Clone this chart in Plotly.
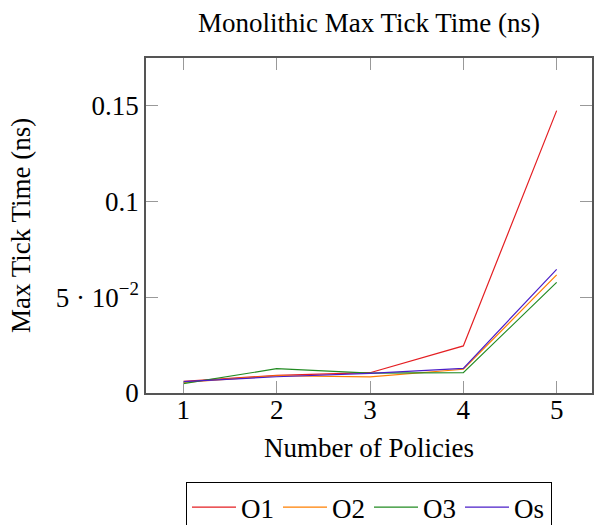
import plotly.graph_objects as go

policies = [1, 2, 3, 4, 5]
o1 = [0.0061, 0.0092, 0.0106, 0.0246, 0.1475]
o2 = [0.0056, 0.0090, 0.0084, 0.0124, 0.0617]
o3 = [0.0049, 0.0127, 0.0104, 0.0106, 0.0578]
os_ = [0.0059, 0.0085, 0.0102, 0.0129, 0.0646]

series_names = ["O1", "O2", "O3", "Os"]
series_vals = [o1, o2, o3, os_]
colors = ["rgb(228,30,34)", "rgb(255,127,0)", "rgb(34,139,34)", "rgb(75,30,200)"]

y_tickvals = [0, 0.05, 0.1, 0.15]
y_ticktext = ["0", "5 · 10<sup>−2</sup>", "0.1", "0.15"]

FONT = "Liberation Serif"
FS = 27

fig = go.Figure()
for name, vals, c in zip(series_names, series_vals, colors):
    fig.add_trace(go.Scatter(x=policies, y=vals, mode="lines", name=name,
                             line=dict(color=c, width=1.2)))

fig.update_layout(
    width=594, height=525,
    margin=dict(l=146, r=0, t=58, b=132, pad=0),
    paper_bgcolor="white", plot_bgcolor="white",
    font=dict(family=FONT, size=FS, color="black"),
    title=dict(text="Monolithic Max Tick Time (ns)", x=0.5, xref="paper",
               y=1 - 23 / 525, yref="container", yanchor="middle", xanchor="center",
               font=dict(family=FONT, size=FS, color="black")),
    showlegend=True,
    legend=dict(orientation="h", x=0.5, xanchor="center",
                yref="container", y=(525 - 482) / 525, yanchor="top",
                bordercolor="black", borderwidth=1, bgcolor="white",
                font=dict(family=FONT, size=FS, color="black"),
                itemwidth=44, entrywidth=32),
)

fig.update_xaxes(range=[0.6, 0.6 + 448 / 93.75], tickvals=policies,
                 ticks="inside", ticklen=12, tickcolor="#999", tickwidth=1,
                 showline=True, linecolor="#555", linewidth=1.5, mirror="ticks",
                 showgrid=False, zeroline=False, ticklabelstandoff=-8,
                 tickfont=dict(family=FONT, size=FS, color="black"))
fig.update_yaxes(range=[0, 0.175], tickvals=y_tickvals, ticktext=y_ticktext,
                 ticks="inside", ticklen=12, tickcolor="#999", tickwidth=1,
                 showline=True, linecolor="#555", linewidth=1.5, mirror="ticks",
                 showgrid=False, zeroline=False,
                 tickfont=dict(family=FONT, size=FS, color="black"))

fig.add_annotation(text="Number of Policies", xref="paper", yref="paper",
                   x=0.5, y=(393 - 448) / 335, xanchor="center", yanchor="middle",
                   showarrow=False, font=dict(family=FONT, size=FS, color="black"))
fig.add_annotation(text="Max Tick Time (ns)", xref="paper", yref="paper",
                   x=(20 - 146) / 448, y=0.5, xanchor="center", yanchor="middle",
                   textangle=-90, showarrow=False,
                   font=dict(family=FONT, size=FS, color="black"))

fig.write_html("out.html")
